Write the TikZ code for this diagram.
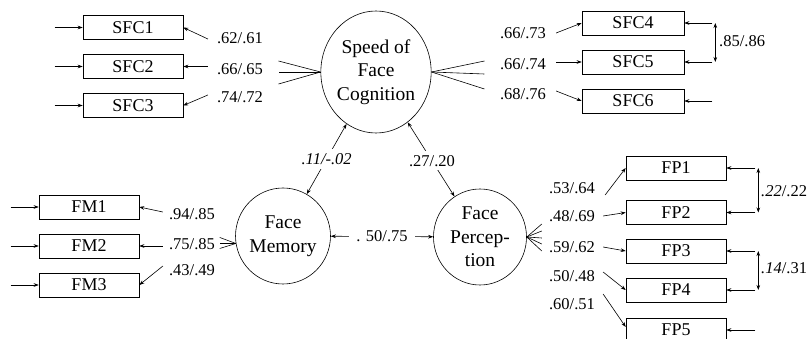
\documentclass[tikz,border=0pt]{standalone}
\usepackage{fontspec}
\setmainfont{Liberation Serif}
\newfontfamily\tnr{Liberation Serif}
\usetikzlibrary{arrows.meta,shapes.geometric}
\begin{document}
\begin{tikzpicture}[x=1pt,y=-1pt,
  every node/.style={inner sep=0pt},
  ln/.style={line width=0.6pt},
  obs/.style={draw, ln, minimum width=100pt, minimum height=24pt, font=\tnr\fontsize{18}{18}\selectfont},
  lat/.style={draw, ln, ellipse, align=center, font=\tnr\fontsize{19.5}{23.5}\selectfont},
  lab/.style={font=\tnr\fontsize{16.5}{16.5}\selectfont},
  arr/.style={ln, -{Stealth[length=5pt,width=3.6pt]}},
  darr/.style={ln, {Stealth[length=5pt,width=3.6pt]}-{Stealth[length=5pt,width=3.6pt]}},
  gap/.style={fill=white, inner sep=4pt}
]
\useasboundingbox (0,0) rectangle (809,339);

% latent variables
\node[lat, minimum width=108pt, minimum height=122pt] (sfc) at (376,72) {Speed of\\Face\\Cognition};
\node[lat, minimum width=90pt, minimum height=96pt] (fm) at (283,236) {Face\\Memory};
\node[lat, minimum width=93pt, minimum height=96pt] (fp) at (480,237) {Face\\Percep-\\tion};

% observed: SFC left
\node[obs] (sfc1) at (133,27.5) {SFC1};
\node[obs] (sfc2) at (133,66.5) {SFC2};
\node[obs] (sfc3) at (133,105.5) {SFC3};
% SFC right
\node[obs, minimum width=102pt] (sfc4) at (633,23) {SFC4};
\node[obs, minimum width=102pt] (sfc5) at (633,62) {SFC5};
\node[obs, minimum width=102pt] (sfc6) at (633,101) {SFC6};
% FM
\node[obs] (fm1) at (89,207) {FM1};
\node[obs] (fm2) at (89,246) {FM2};
\node[obs] (fm3) at (89,285) {FM3};
% FP
\node[obs] (fp1) at (676,168) {FP1};
\node[obs] (fp2) at (676,212.5) {FP2};
\node[obs] (fp3) at (676,251) {FP3};
\node[obs] (fp4) at (676,290) {FP4};
\node[obs] (fp5) at (676,330) {FP5};

% error arrows
\foreach \n in {sfc1,sfc2,sfc3}{\draw[arr] ([xshift=-28pt]\n.west) -- (\n.west);}
\foreach \n in {fm1,fm2,fm3}{\draw[arr] ([xshift=-28pt]\n.west) -- (\n.west);}
\foreach \n in {sfc4,sfc5,sfc6}{\draw[arr] ([xshift=28pt]\n.east) -- (\n.east);}
\foreach \n in {fp1,fp2,fp3,fp4,fp5}{\draw[arr] ([xshift=29pt]\n.east) -- (\n.east);}

% correlated errors
\draw[darr] ([xshift=31pt]sfc4.east) -- ([xshift=31pt]sfc5.east);
\node[lab, anchor=west] (c45) at (719,41) {.85/.86};
\draw[darr] ([xshift=32pt]fp1.east) -- ([xshift=32pt]fp2.east);
\node[lab, anchor=west] (c12) at (761,191) {\textit{.22}/.22};
\draw[darr] ([xshift=32pt]fp3.east) -- ([xshift=32pt]fp4.east);
\node[lab, anchor=west] (c34) at (761,268) {\textit{.14}/.31};

% loadings: SFC left
\node[lab] (l1) at (240,38) {.62/.61};
\node[lab] (l2) at (240,69) {.66/.65};
\node[lab] (l3) at (240,97) {.74/.72};
\draw[arr] ([xshift=-9pt,yshift=-1pt]l1.west) -- (sfc1.east);
\draw[arr] ([xshift=-9pt]l2.west |- sfc2.east) -- (sfc2.east);
\draw[arr] ([xshift=-9pt,yshift=2pt]l3.west) -- (sfc3.east);
\draw[ln] (sfc.west) -- ([shift={(-42pt,-12pt)}]sfc.west);
\draw[ln] (sfc.west) -- ([shift={(-42pt,0pt)}]sfc.west);
\draw[ln] (sfc.west) -- ([shift={(-42pt,11pt)}]sfc.west);

% loadings: SFC right
\node[lab] (l4) at (523,33) {.66/.73};
\node[lab] (l5) at (523,64) {.66/.74};
\node[lab] (l6) at (523,94) {.68/.76};
\draw[arr] ([xshift=10pt]l4.east) -- (sfc4.west);
\draw[arr] ([xshift=10pt]l5.east |- sfc5.west) -- (sfc5.west);
\draw[arr] ([xshift=10pt,yshift=3pt]l6.east) -- (sfc6.west);
\draw[ln] (sfc.east) -- ([shift={(53pt,-17pt)}]sfc.east);
\draw[ln] (sfc.east) -- ([shift={(53pt,-2pt)}]sfc.east);
\draw[ln] (sfc.east) -- ([shift={(53pt,11pt)}]sfc.east);

% loadings: FM
\node[lab] (m1) at (192,214) {.94/.85};
\node[lab] (m2) at (192,244) {.75/.85};
\node[lab] (m3) at (192,270) {.43/.49};
\draw[arr] ([xshift=-6pt,yshift=2pt]m1.west) -- (fm1.east);
\draw[arr] ([xshift=-6pt]m2.west |- fm2.east) -- (fm2.east);
\draw[arr] ([xshift=-6pt,yshift=4pt]m3.west) -- (fm3.east);
\draw[ln] (fm.189) -- ([shift={(-16pt,-5pt)}]fm.189);
\draw[ln] (fm.189) -- ([shift={(-16pt,0pt)}]fm.189);
\draw[ln] (fm.189) -- ([shift={(-16pt,6pt)}]fm.189);

% loadings: FP
\node[lab] (p1) at (572,188) {.53/.64};
\node[lab] (p2) at (572,216) {.48/.69};
\node[lab] (p3) at (572,247) {.59/.62};
\node[lab] (p4) at (572,276) {.50/.48};
\node[lab] (p5) at (572,304) {.60/.51};
\draw[arr] ([xshift=10pt,yshift=-7pt]p1.east) -- (fp1.west);
\draw[arr] ([xshift=8pt]p2.east) -- (fp2.west);
\draw[arr] ([xshift=8pt]p3.east) -- (fp3.west);
\draw[arr] ([xshift=8pt,yshift=4pt]p4.east) -- (fp4.west);
\draw[arr] ([xshift=8pt,yshift=10pt]p5.east) -- ([yshift=3pt]fp5.west);
\foreach \dy in {-14,-7,-1,6,13}{\draw[ln] (fp.east) -- ([shift={(15pt,\dy pt)}]fp.east);}

% structural correlations
\draw[darr] (sfc) -- node[lab, gap, font=\tnr\fontsize{16.5}{16.5}\selectfont\itshape] (r1) {.11/-.02} (fm);
\draw[darr] (sfc) -- node[lab, gap, pos=0.52] (r2) {.27/.20} (fp);
\draw[darr] (fm) -- node[lab, gap, inner xsep=7pt] (r3) {. 50/.75} (fp);
\end{tikzpicture}
\end{document}
